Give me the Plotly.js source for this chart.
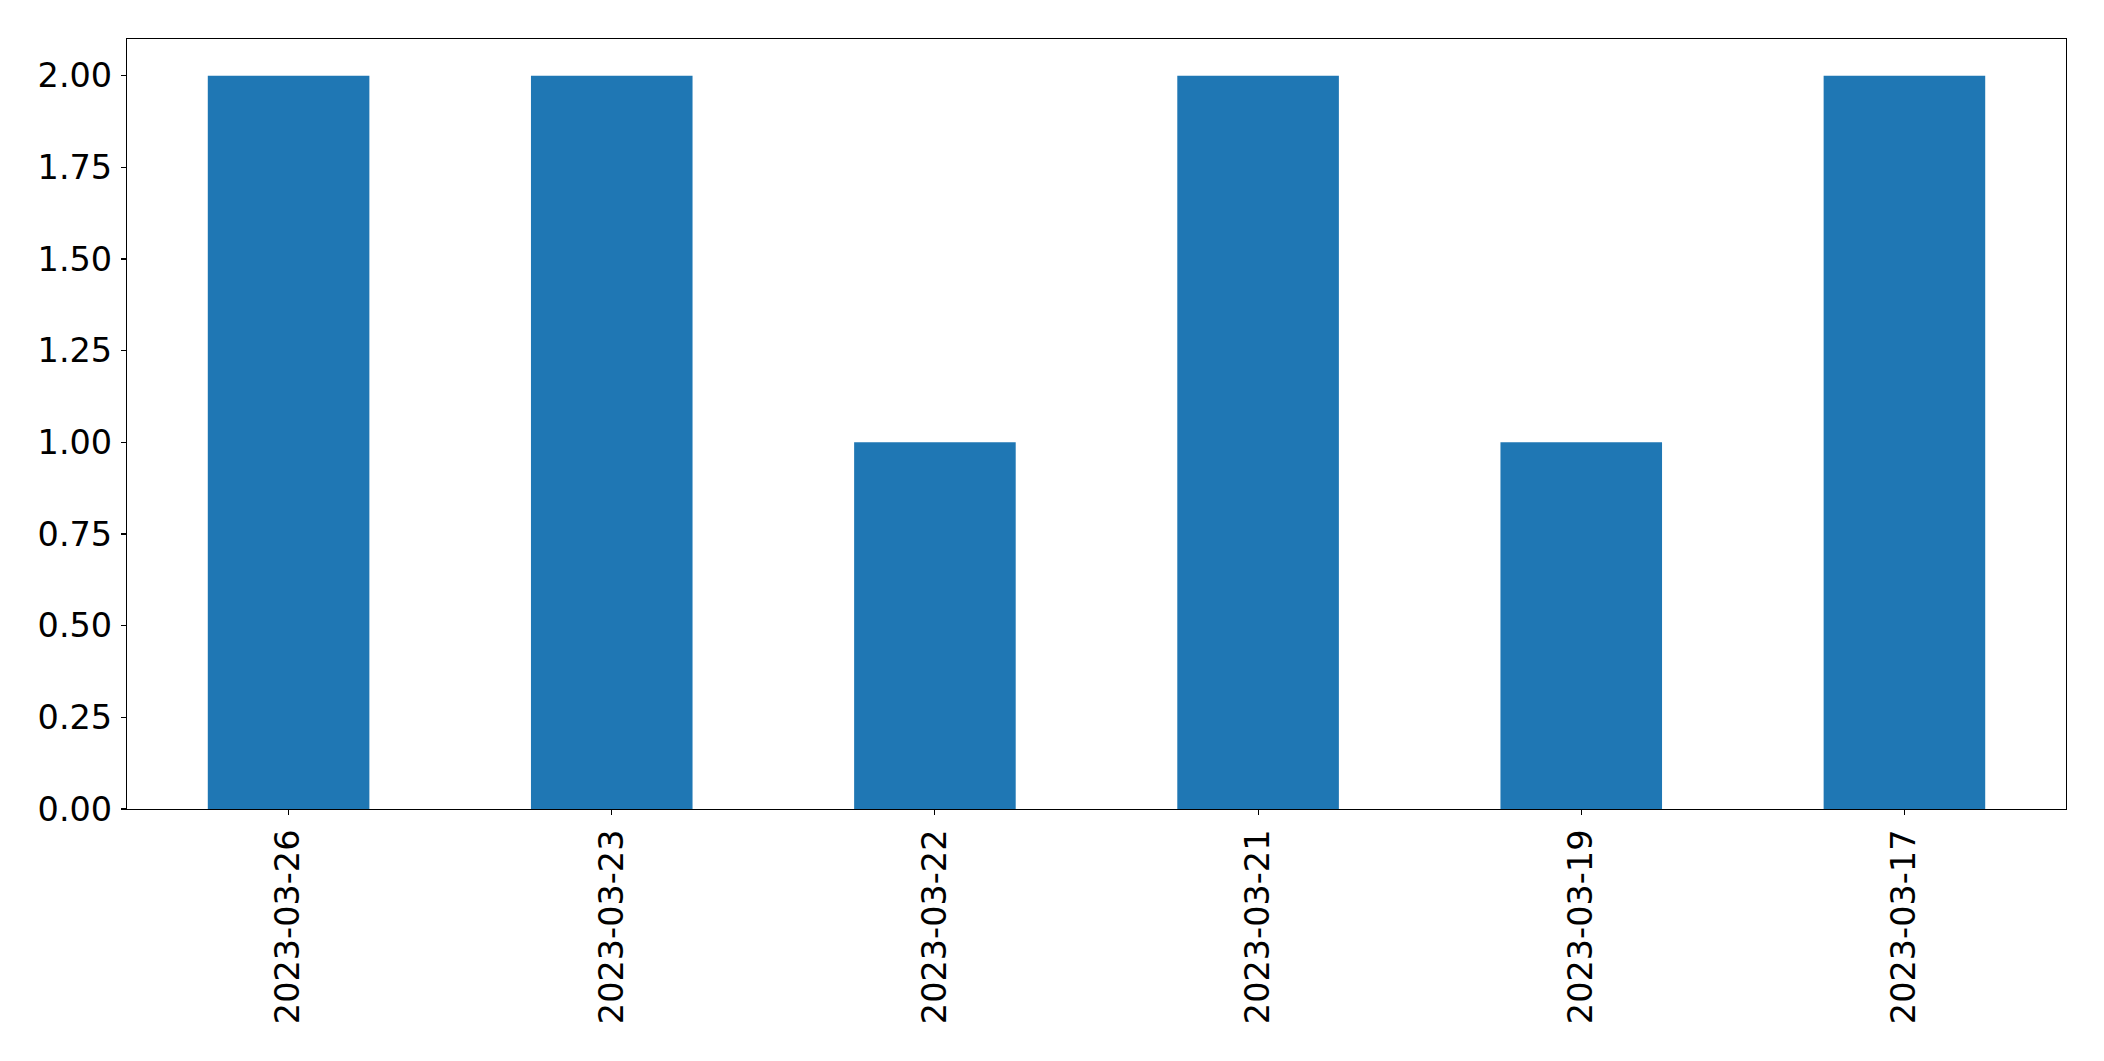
<!DOCTYPE html>
<html>
<head>
<meta charset="utf-8">
<script src="https://cdn.plot.ly/plotly-3.0.1.min.js"></script>
<style>html,body{margin:0;padding:0;background:#fff;}#chart{width:2104px;height:1061px;}</style>
</head>
<body>
<div id="chart"></div>
<script>
const categories = ["2023-03-26", "2023-03-23", "2023-03-22", "2023-03-21", "2023-03-19", "2023-03-17"];
const counts = [2, 2, 1, 2, 1, 2];
const yTickVals = [0, 0.25, 0.5, 0.75, 1.0, 1.25, 1.5, 1.75, 2.0];
const yTickText = ["0.00", "0.25", "0.50", "0.75", "1.00", "1.25", "1.50", "1.75", "2.00"];

const trace = {
  type: "bar",
  x: categories,
  y: counts,
  width: 0.5,
  marker: {color: "#1f77b4", line: {width: 0}},
  hoverinfo: "x+y"
};

const font = {family: "DejaVu Sans, sans-serif", size: 33.5, color: "#000"};

const layout = {
  width: 2104,
  height: 1061,
  margin: {l: 127, r: 38, t: 39, b: 252, pad: 0},
  paper_bgcolor: "#fff",
  plot_bgcolor: "#fff",
  showlegend: false,
  font: font,
  bargap: 0.5,
  xaxis: {
    type: "category",
    range: [-0.5, 5.5],
    showgrid: false,
    zeroline: false,
    showline: true,
    linecolor: "#000",
    linewidth: 1.1,
    mirror: true,
    ticks: "outside",
    ticklen: 5,
    tickwidth: 1.1,
    tickcolor: "#000",
    tickangle: -90,
    tickfont: font,
    ticklabelstandoff: 1
  },
  yaxis: {
    range: [0, 2.1],
    tickvals: yTickVals,
    ticktext: yTickText,
    showgrid: false,
    zeroline: false,
    showline: true,
    linecolor: "#000",
    linewidth: 1.1,
    mirror: true,
    ticks: "outside",
    ticklen: 5,
    tickwidth: 1.1,
    tickcolor: "#000",
    tickfont: font,
    ticklabelstandoff: 2
  }
};

Plotly.newPlot("chart", [trace], layout, {displayModeBar: false, staticPlot: true});
</script>
</body>
</html>
